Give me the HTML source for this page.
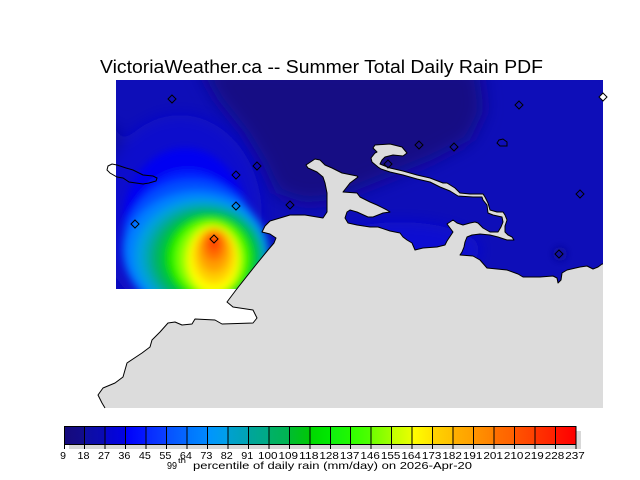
<!DOCTYPE html>
<html><head><meta charset="utf-8"><style>
html,body{margin:0;padding:0;background:#fff;}
svg{display:block;}
text{font-family:"Liberation Sans",sans-serif;fill:#000;}
</style></head><body>
<svg width="640" height="480" viewBox="0 0 640 480" xmlns="http://www.w3.org/2000/svg">
<defs>
<clipPath id="fc"><rect x="116" y="80" width="487" height="209"/></clipPath>
<filter id="b14" filterUnits="userSpaceOnUse" x="0" y="0" width="640" height="480"><feGaussianBlur stdDeviation="9"/></filter>
<filter id="b8" filterUnits="userSpaceOnUse" x="0" y="0" width="640" height="480"><feGaussianBlur stdDeviation="8"/></filter>
<filter id="b4" filterUnits="userSpaceOnUse" x="0" y="0" width="640" height="480"><feGaussianBlur stdDeviation="4"/></filter>
<linearGradient id="cb" gradientUnits="userSpaceOnUse" x1="64" y1="0" x2="576" y2="0">
<stop offset="0" stop-color="#150a7c"/><stop offset="0.04" stop-color="#120c8c"/>
<stop offset="0.04" stop-color="#0e0ea2"/><stop offset="0.08" stop-color="#0a0ab4"/>
<stop offset="0.08" stop-color="#0606cc"/><stop offset="0.12" stop-color="#0202e2"/>
<stop offset="0.12" stop-color="#0000fa"/><stop offset="0.16" stop-color="#0418ff"/>
<stop offset="0.16" stop-color="#0828ff"/><stop offset="0.20" stop-color="#0a40ff"/>
<stop offset="0.20" stop-color="#0850ff"/><stop offset="0.24" stop-color="#0468ff"/>
<stop offset="0.24" stop-color="#0074ff"/><stop offset="0.28" stop-color="#0088ff"/>
<stop offset="0.28" stop-color="#0094ff"/><stop offset="0.32" stop-color="#00a0e8"/>
<stop offset="0.32" stop-color="#00a0d0"/><stop offset="0.36" stop-color="#00a4b4"/>
<stop offset="0.36" stop-color="#00a49c"/><stop offset="0.40" stop-color="#00ac84"/>
<stop offset="0.40" stop-color="#00b068"/><stop offset="0.44" stop-color="#00b450"/>
<stop offset="0.44" stop-color="#00bc30"/><stop offset="0.48" stop-color="#00c808"/>
<stop offset="0.48" stop-color="#00d800"/><stop offset="0.52" stop-color="#00e800"/>
<stop offset="0.52" stop-color="#10f010"/><stop offset="0.56" stop-color="#20f800"/>
<stop offset="0.56" stop-color="#30ff00"/><stop offset="0.60" stop-color="#50ff00"/>
<stop offset="0.60" stop-color="#70ff00"/><stop offset="0.64" stop-color="#a0ff00"/>
<stop offset="0.64" stop-color="#c0ff00"/><stop offset="0.68" stop-color="#e8ff00"/>
<stop offset="0.68" stop-color="#ffff00"/><stop offset="0.72" stop-color="#ffe400"/>
<stop offset="0.72" stop-color="#ffd400"/><stop offset="0.76" stop-color="#ffc000"/>
<stop offset="0.76" stop-color="#ffb000"/><stop offset="0.80" stop-color="#ffa000"/>
<stop offset="0.80" stop-color="#ff9400"/><stop offset="0.84" stop-color="#ff8000"/>
<stop offset="0.84" stop-color="#ff7000"/><stop offset="0.88" stop-color="#ff6000"/>
<stop offset="0.88" stop-color="#ff5400"/><stop offset="0.92" stop-color="#ff4000"/>
<stop offset="0.92" stop-color="#ff3400"/><stop offset="0.96" stop-color="#ff2000"/>
<stop offset="0.96" stop-color="#ff1400"/><stop offset="1" stop-color="#ff0000"/>
</linearGradient>
</defs>

<!-- Title -->
<text x="100" y="73" font-size="18" textLength="443" lengthAdjust="spacingAndGlyphs">VictoriaWeather.ca -- Summer Total Daily Rain PDF</text>

<!-- Field -->
<g clip-path="url(#fc)">
  <rect x="116" y="80" width="487" height="209" fill="#0e0eb8"/>
  <g filter="url(#b14)">
    <polygon points="199,66 478,66 484,110 470,140 432,160 382,180 332,200 305,203 276,193 262,162 244,132 218,100" fill="#160984"/>
  </g>
  <g filter="url(#b8)">
    <ellipse cx="400" cy="250" rx="80" ry="28" fill="#0707d2"/>
    <ellipse cx="108" cy="185" rx="18" ry="62" fill="#0e0c9a"/>
    <ellipse cx="180" cy="215" rx="82" ry="100" fill="#0808cc"/>
  </g>
  <g filter="url(#b4)">
    <ellipse cx="560" cy="254" rx="7" ry="7" fill="#0a0a9c"/>
    <ellipse cx="185" cy="222" rx="62" ry="74" fill="#0000f2"/>
    <ellipse cx="188" cy="236" rx="60" ry="66" fill="#0020ff"/>
    <ellipse cx="192" cy="247" rx="70" ry="67" fill="#0050ff"/>
    <ellipse cx="197" cy="253" rx="72" ry="62" fill="#0080ff"/>
    <ellipse cx="201" cy="256" rx="66" ry="57" fill="#00a0e0"/>
    <ellipse cx="204" cy="257" rx="60" ry="53" fill="#00a8a8"/>
    <ellipse cx="207" cy="258" rx="55" ry="49" fill="#00b460"/>
    <ellipse cx="209" cy="258" rx="47" ry="44" fill="#00d000"/>
    <ellipse cx="210" cy="258" rx="40" ry="40" fill="#30f800"/>
    <ellipse cx="211" cy="259" rx="33" ry="37" fill="#90ff00"/>
    <ellipse cx="213" cy="260" rx="26" ry="34" fill="#ffff00"/>
    <ellipse cx="214" cy="256" rx="21" ry="28" fill="#ffd000"/>
    <ellipse cx="214" cy="251" rx="16" ry="22" fill="#ffa000"/>
    <ellipse cx="214" cy="246" rx="11" ry="15" fill="#ff7000"/>
    <ellipse cx="214" cy="243" rx="6" ry="8" fill="#ff4000"/>
  </g>
</g>

<!-- Land -->
<polygon fill="#dcdcdc" points="105,408 102,403 98,395 103,388 115,383 123,377 127,363 142,353 150,347 152,340 160,332 168,323 175,322 182,325 192,324 195,319 215,320 222,324 253,323 257,318 253,310 233,307 227,302 236,290 255,266 268,250 274,243 276,238 270,234 262,232 265,226 270,221 280,218 290,215 305,215 323,218 327,212 327,193 325,183 323,177 317,172 308,168 306,165 312,161 315,159 320,160 325,165 332,168 342,173 357,176 358,177 350,183 343,192 357,193 360,197 370,202 377,205 387,210 390,212 383,213 373,217 368,217 357,212 350,210 347,212 345,218 348,223 357,225 370,227 378,227 390,231 400,233 403,237 407,240 412,243 415,250 423,248 437,247 445,245 447,241 453,232 447,224 453,220 457,223 463,225 470,223 475,222 478,223 483,228 490,232 498,232 501,227 503,222 502,217 493,215 488,213 487,205 483,200 482,197 473,197 458,196 450,191 440,187 430,182 417,179 403,175 390,172 381,169 378,167 372,162 371,158 375,153 377,152 373,148 375,145 390,144 402,147 407,153 403,156 393,155 385,157 382,160 380,164 390,168 403,171 417,175 430,178 443,183 447,183 455,188 460,193 470,194 483,194 485,197 488,203 490,210 497,212 503,212 505,215 507,220 505,226 505,232 508,235 512,237 514,240 507,240 498,237 490,235 480,234 472,235 467,237 465,242 464,247 462,252 460,255 473,256 480,260 487,268 507,270 518,274 523,277 540,277 553,276 557,278 558,283 561,280 562,273 567,270 580,267 587,266 593,269 598,267 602,264 603,264 603,408"/>
<polyline fill="none" stroke="#000" stroke-width="1" stroke-linejoin="round" points="105,408 102,403 98,395 103,388 115,383 123,377 127,363 142,353 150,347 152,340 160,332 168,323 175,322 182,325 192,324 195,319 215,320 222,324 253,323 257,318 253,310 233,307 227,302 236,290 255,266 268,250 274,243 276,238 270,234 262,232 265,226 270,221 280,218 290,215 305,215 323,218 327,212 327,193 325,183 323,177 317,172 308,168 306,165 312,161 315,159 320,160 325,165 332,168 342,173 357,176 358,177 350,183 343,192 357,193 360,197 370,202 377,205 387,210 390,212 383,213 373,217 368,217 357,212 350,210 347,212 345,218 348,223 357,225 370,227 378,227 390,231 400,233 403,237 407,240 412,243 415,250 423,248 437,247 445,245 447,241 453,232 447,224 453,220 457,223 463,225 470,223 475,222 478,223 483,228 490,232 498,232 501,227 503,222 502,217 493,215 488,213 487,205 483,200 482,197 473,197 458,196 450,191 440,187 430,182 417,179 403,175 390,172 381,169 378,167 372,162 371,158 375,153 377,152 373,148 375,145 390,144 402,147 407,153 403,156 393,155 385,157 382,160 380,164 390,168 403,171 417,175 430,178 443,183 447,183 455,188 460,193 470,194 483,194 485,197 488,203 490,210 497,212 503,212 505,215 507,220 505,226 505,232 508,235 512,237 514,240 507,240 498,237 490,235 480,234 472,235 467,237 465,242 464,247 462,252 460,255 473,256 480,260 487,268 507,270 518,274 523,277 540,277 553,276 557,278 558,283 561,280 562,273 567,270 580,267 587,266 593,269 598,267 602,264 603,264"/>

<!-- Island outline -->
<polygon fill="none" stroke="#000" stroke-width="1" points="108,166 112,164 117,165 126,168 133,170 143,175 153,176 157,178 156,181 149,183 143,184 136,183 129,182 123,178 117,177 110,173 107,170"/>

<!-- Stations -->
<g fill="none" stroke="#000" stroke-width="1">
  <polygon points="172,95 176,99 172,103 168,99"/>
  <polygon points="257,162 261,166 257,170 253,166"/>
  <polygon points="236,171 240,175 236,179 232,175"/>
  <polygon points="236,202 240,206 236,210 232,206"/>
  <polygon points="290,201 294,205 290,209 286,205"/>
  <polygon points="135,220 139,224 135,228 131,224"/>
  <polygon points="214,235 218,239 214,243 210,239"/>
  <polygon points="388,160 392,164 388,168 384,164"/>
  <polygon points="419,141 423,145 419,149 415,145"/>
  <polygon points="454,143 458,147 454,151 450,147"/>
  <polygon points="499,140 503,139 507,142 507,146 500,146 497,143"/>
  <polygon points="519,101 523,105 519,109 515,105"/>
  <polygon points="603,93 607,97 603,101 599,97" fill="#fff"/>
  <polygon points="580,190 584,194 580,198 576,194"/>
  <polygon points="559,250 563,254 559,258 555,254"/>
</g>

<!-- Colorbar -->
<rect x="69" y="445" width="512" height="4" fill="#d8d8d8"/>
<rect x="576" y="431" width="5" height="18" fill="#d8d8d8"/>
<rect x="64.5" y="426.5" width="511.5" height="18" fill="url(#cb)" stroke="#000" stroke-width="1"/>
<g stroke="#000" stroke-width="1">
  <path d="M64.5 426V449 M84.5 426V449 M105 426V449 M125.5 426V449 M146 426V449 M166.5 426V449 M187 426V449 M207.5 426V449 M228 426V449 M248.5 426V449 M269 426V449 M289.5 426V449 M310 426V449 M330.5 426V449 M350.5 426V449 M371 426V449 M391.5 426V449 M412 426V449 M432.5 426V449 M453 426V449 M473.5 426V449 M494 426V449 M514.5 426V449 M535 426V449 M555.5 426V449 M576 426V449"/>
</g>
<g font-size="10.5" text-anchor="middle">
  <text x="63" y="459">9</text>
  <text x="83.5" y="459" textLength="12" lengthAdjust="spacingAndGlyphs">18</text>
  <text x="104" y="459" textLength="12" lengthAdjust="spacingAndGlyphs">27</text>
  <text x="124.4" y="459" textLength="12" lengthAdjust="spacingAndGlyphs">36</text>
  <text x="144.9" y="459" textLength="12" lengthAdjust="spacingAndGlyphs">45</text>
  <text x="165.4" y="459" textLength="12" lengthAdjust="spacingAndGlyphs">55</text>
  <text x="185.9" y="459" textLength="12" lengthAdjust="spacingAndGlyphs">64</text>
  <text x="206.4" y="459" textLength="12" lengthAdjust="spacingAndGlyphs">73</text>
  <text x="226.8" y="459" textLength="12" lengthAdjust="spacingAndGlyphs">82</text>
  <text x="247.3" y="459" textLength="12" lengthAdjust="spacingAndGlyphs">91</text>
  <text x="267.8" y="459" textLength="19.5" lengthAdjust="spacingAndGlyphs">100</text>
  <text x="288.3" y="459" textLength="19.5" lengthAdjust="spacingAndGlyphs">109</text>
  <text x="308.8" y="459" textLength="19.5" lengthAdjust="spacingAndGlyphs">118</text>
  <text x="329.2" y="459" textLength="19.5" lengthAdjust="spacingAndGlyphs">128</text>
  <text x="349.7" y="459" textLength="19.5" lengthAdjust="spacingAndGlyphs">137</text>
  <text x="370.2" y="459" textLength="19.5" lengthAdjust="spacingAndGlyphs">146</text>
  <text x="390.7" y="459" textLength="19.5" lengthAdjust="spacingAndGlyphs">155</text>
  <text x="411.2" y="459" textLength="19.5" lengthAdjust="spacingAndGlyphs">164</text>
  <text x="431.6" y="459" textLength="19.5" lengthAdjust="spacingAndGlyphs">173</text>
  <text x="452.1" y="459" textLength="19.5" lengthAdjust="spacingAndGlyphs">182</text>
  <text x="472.6" y="459" textLength="19.5" lengthAdjust="spacingAndGlyphs">191</text>
  <text x="493.1" y="459" textLength="19.5" lengthAdjust="spacingAndGlyphs">201</text>
  <text x="513.6" y="459" textLength="19.5" lengthAdjust="spacingAndGlyphs">210</text>
  <text x="534" y="459" textLength="19.5" lengthAdjust="spacingAndGlyphs">219</text>
  <text x="554.5" y="459" textLength="19.5" lengthAdjust="spacingAndGlyphs">228</text>
  <text x="575" y="459" textLength="19.5" lengthAdjust="spacingAndGlyphs">237</text>
</g>
<text x="167" y="469" font-size="10.5" textLength="10" lengthAdjust="spacingAndGlyphs">99</text>
<text x="178" y="463" font-size="7" textLength="8" lengthAdjust="spacingAndGlyphs">th</text>
<text x="193" y="469" font-size="10.5" textLength="279" lengthAdjust="spacingAndGlyphs">percentile of daily rain (mm/day) on 2026-Apr-20</text>
</svg>
</body></html>
